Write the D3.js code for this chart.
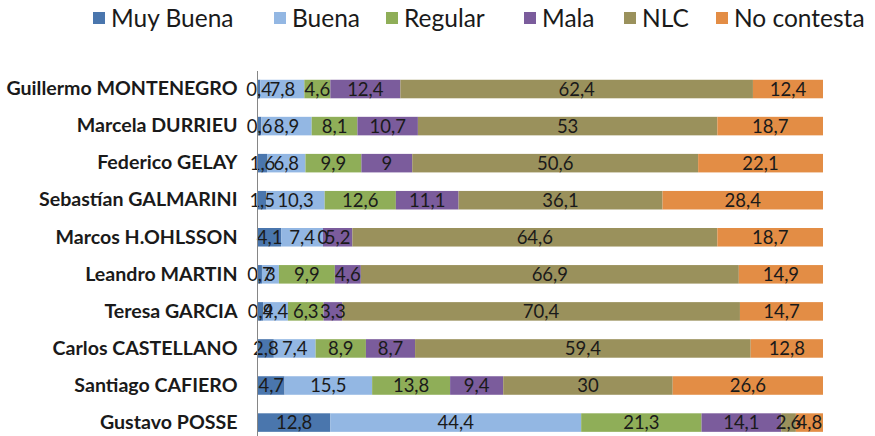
<!DOCTYPE html>
<html><head><meta charset="utf-8">
<script src="https://cdn.jsdelivr.net/npm/d3@7"></script>
<style>body{margin:0;background:#fff}svg{display:block}</style>
</head><body>
<svg id="c" width="875" height="436"></svg>
<script>
const categories = ["Guillermo MONTENEGRO","Marcela DURRIEU","Federico GELAY","Sebastían GALMARINI","Marcos H.OHLSSON","Leandro MARTIN","Teresa GARCIA","Carlos CASTELLANO","Santiago CAFIERO","Gustavo POSSE"];
const seriesNames = ["Muy Buena","Buena","Regular","Mala","NLC","No contesta"];
const muyBuena   = [0.4, 0.6, 1.6, 1.5, 4.1, 0.7, 0.9, 2.8, 4.7, 12.8];
const buena      = [7.8, 8.9, 6.8, 10.3, 7.4, 3, 4.4, 7.4, 15.5, 44.4];
const regular    = [4.6, 8.1, 9.9, 12.6, 0, 9.9, 6.3, 8.9, 13.8, 21.3];
const mala       = [12.4, 10.7, 9, 11.1, 5.2, 4.6, 3.3, 8.7, 9.4, 14.1];
const nlc        = [62.4, 53, 50.6, 36.1, 64.6, 66.9, 70.4, 59.4, 30, 2.6];
const noContesta = [12.4, 18.7, 22.1, 28.4, 18.7, 14.9, 14.7, 12.8, 26.6, 4.8];
const colors = ["#4a76ad","#93b7e3","#8fae58","#7b5c9c","#9a915c","#e38d45"];

const seriesValues = [muyBuena, buena, regular, mala, nlc, noContesta];
const rows = categories.map((c,i)=>{
  const o = {cat:c};
  seriesNames.forEach((s,j)=>o[s]=seriesValues[j][i]);
  return o;
});
const stack = d3.stack().keys(seriesNames).offset(d3.stackOffsetExpand);
const layers = stack(rows);

const svg = d3.select("#c");
const x = d3.scaleLinear().domain([0,1]).range([258,823]);
const y = d3.scaleBand().domain(categories).range([70.5,441.1]).paddingInner(0.5).paddingOuter(0.25);
const color = d3.scaleOrdinal().domain(seriesNames).range(colors);
const fontReg = "Lato, 'Open Sans', sans-serif";

const g = svg.append("g");
layers.forEach(layer=>{
  g.selectAll(null).data(layer).enter().append("rect")
    .attr("x", d=>x(d[0])).attr("width", d=>x(d[1])-x(d[0]))
    .attr("y", d=>y(d.data.cat)).attr("height", y.bandwidth())
    .attr("fill", color(layer.key));
});
layers.forEach(layer=>{
  g.selectAll(null).data(layer).enter().append("text")
    .attr("x", d=>(x(d[0])+x(d[1]))/2)
    .attr("y", d=>y(d.data.cat)+y.bandwidth()/2)
    .attr("dy","0.36em")
    .attr("text-anchor","middle")
    .attr("font-family",fontReg).attr("font-size",18.5).attr("fill","#1a1a1a")
    .text(d=>String(d.data[layer.key]).replace(".",","));
});

// axis
const yAxis = d3.axisLeft(y).tickSize(0).tickPadding(20);
const ax = svg.append("g").attr("transform","translate(257.5,0)").call(yAxis);
ax.select(".domain").attr("stroke","#868686").attr("d","M0,71V436");
ax.selectAll("text").attr("font-family",fontReg).attr("font-weight","bold")
  .attr("font-size",19.6).attr("fill","#1a1a1a");

// legend
const legX = [93,274,386,524,624,716];
const leg = svg.append("g");
seriesNames.forEach((s,i)=>{
  leg.append("rect").attr("x",legX[i]).attr("y",12).attr("width",12).attr("height",12).attr("fill",colors[i]);
  leg.append("text").attr("x",legX[i]+18).attr("y",18).attr("dy","0.36em")
    .attr("font-family",fontReg).attr("font-size",24.5).attr("fill","#1a1a1a").text(s);
});
</script>
</body></html>
